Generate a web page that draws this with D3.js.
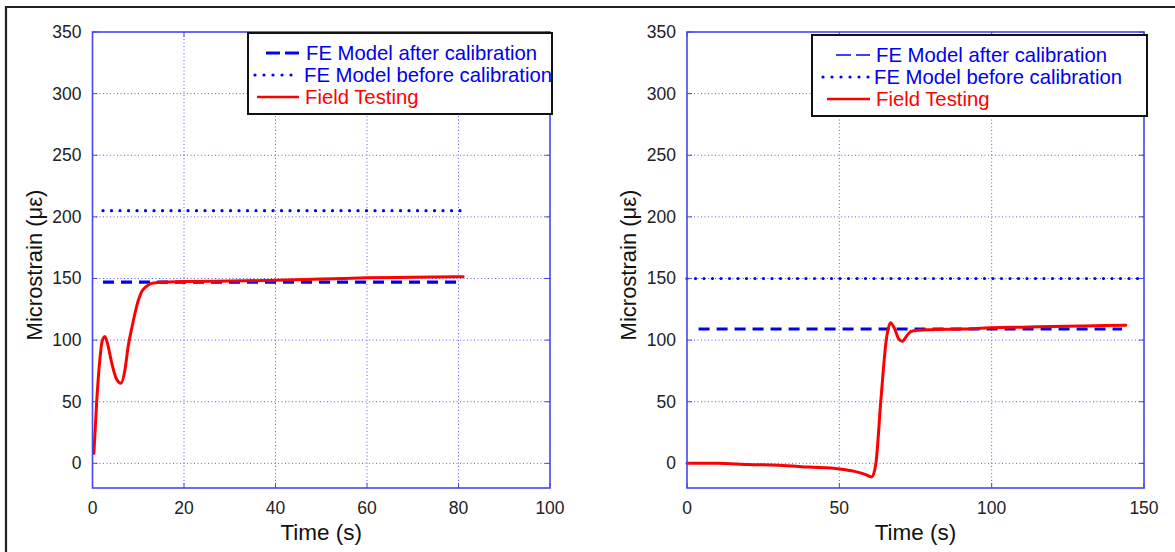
<!DOCTYPE html>
<html>
<head>
<meta charset="utf-8">
<script src="https://cdn.jsdelivr.net/npm/d3@7"></script>
<style>
	body	{ margin:0; background:#fff; }
	svg	{ display:block; font-family:"Liberation Sans", Arial, sans-serif; }
</style>
</head>
<body>
<svg id="chart" width="1175" height="552"></svg>
<script>
// values
var	yTicks		= [0, 50, 100, 150, 200, 250, 300, 350],
	leftXTicks	= [0, 20, 40, 60, 80, 100],
	rightXTicks	= [0, 50, 100, 150],
	legendLabels	= ["FE Model after calibration", "FE Model before calibration", "Field Testing"];

var	leftTime	= [0.3, 0.9, 1.6, 2.1, 2.7, 3.3, 4.2, 5.3, 6.2, 7.1, 7.8, 8.6, 9.3, 10, 10.7, 11.6, 12.9, 15, 20, 30, 40, 50, 55, 60, 70, 81],
	leftField	= [8, 49, 84, 99, 103, 97, 81.5, 68, 65, 76, 95, 110, 122, 132, 139, 143, 146, 147, 147.5, 148, 148.5, 149.5, 150, 150.5, 151, 151.5],
	leftAfterX	= [2.3, 80.3],
	leftAfter	= [147, 147],
	leftBeforeX	= [2.3, 80.5],
	leftBefore	= [205, 205];

var	rightTime	= [0, 10, 20, 30, 40, 50, 55, 58, 60.7, 62, 63.6, 65.4, 66.8, 68, 69.5, 70.7, 72, 73.5, 76, 80, 90, 100, 110, 120, 130, 144],
	rightField	= [0, 0, -1, -1.5, -3, -4.5, -6.5, -8.5, -11, 0, 50, 100, 114, 110, 101, 99, 103, 107, 108, 108.5, 109, 110, 110.5, 111, 111.5, 112],
	rightAfterX	= [3.8, 142.8],
	rightAfter	= [109, 109],
	rightBeforeX	= [0, 150],
	rightBefore	= [150, 150];

var	svg	= d3.select("#chart"),
	axisBlue= "#4646ee",
	gridBlue= "#5c5cf0";

function zip(xs, ys) { return xs.map(function(x, i) { return [x, ys[i]]; }); }

function drawPanel(p) {
	var	x	= d3.scaleLinear().domain(p.xDomain).range([p.left, p.right]),
		y	= d3.scaleLinear().domain([-20, 350]).range([488, 32]),
		line	= d3.line().x(function(d) { return x(d[0]); }).y(function(d) { return y(d[1]); }),
		g	= svg.append("g");

	// grid
	g.selectAll(".gx").data(p.xTicks.slice(1, -1)).enter().append("line")
		.attr("x1", function(d) { return x(d); }).attr("x2", function(d) { return x(d); })
		.attr("y1", y(-20)).attr("y2", y(350))
		.attr("stroke", gridBlue).attr("stroke-width", 1).attr("stroke-dasharray", "1,2.5");
	g.selectAll(".gy").data(yTicks.slice(0, -1)).enter().append("line")
		.attr("y1", function(d) { return y(d); }).attr("y2", function(d) { return y(d); })
		.attr("x1", p.left).attr("x2", p.right)
		.attr("stroke", gridBlue).attr("stroke-width", 1).attr("stroke-dasharray", "1,2.5");

	// series
	g.append("path").datum(zip(p.beforeX, p.before)).attr("d", line)
		.attr("fill", "none").attr("stroke", "#0000ff").attr("stroke-width", 3.2)
		.attr("stroke-linecap", "round").attr("stroke-dasharray", "0,8.5");
	g.append("path").datum(zip(p.afterX, p.after)).attr("d", line)
		.attr("fill", "none").attr("stroke", "#0000ee").attr("stroke-width", 3.2)
		.attr("stroke-dasharray", "11,7");
	g.append("path").datum(zip(p.time, p.field)).attr("d", line.curve(d3.curveMonotoneX))
		.attr("fill", "none").attr("stroke", "#ff0000").attr("stroke-width", 3)
		.attr("stroke-linejoin", "round").attr("stroke-linecap", "round");

	// box and inward ticks
	g.append("rect").attr("x", p.left).attr("y", y(350))
		.attr("width", p.right - p.left).attr("height", y(-20) - y(350))
		.attr("fill", "none").attr("stroke", axisBlue).attr("stroke-width", 1.6);
	p.xTicks.forEach(function(t) {
		g.append("line").attr("x1", x(t)).attr("x2", x(t)).attr("y1", y(-20)).attr("y2", y(-20) - 5).attr("stroke", axisBlue);
		g.append("line").attr("x1", x(t)).attr("x2", x(t)).attr("y1", y(350)).attr("y2", y(350) + 5).attr("stroke", axisBlue);
	});
	yTicks.forEach(function(t) {
		g.append("line").attr("y1", y(t)).attr("y2", y(t)).attr("x1", p.left).attr("x2", p.left + 5).attr("stroke", axisBlue);
		g.append("line").attr("y1", y(t)).attr("y2", y(t)).attr("x1", p.right).attr("x2", p.right - 5).attr("stroke", axisBlue);
	});

	// tick labels
	g.selectAll(".xl").data(p.xTicks).enter().append("text")
		.attr("x", function(d) { return x(d); }).attr("y", 514)
		.attr("text-anchor", "middle").attr("font-size", 17.5).attr("fill", "#222")
		.text(function(d) { return d; });
	g.selectAll(".yl").data(yTicks).enter().append("text")
		.attr("x", p.left - 11).attr("y", function(d) { return y(d) + 6; })
		.attr("text-anchor", "end").attr("font-size", 17.5).attr("fill", "#222")
		.text(function(d) { return d; });

	// axis titles
	g.append("text").attr("x", (p.left + p.right) / 2).attr("y", 540)
		.attr("text-anchor", "middle").attr("font-size", 22.5).attr("fill", "#111")
		.text("Time (s)");
	g.append("text").attr("transform", "translate(" + (p.left - 51) + ",265) rotate(-90)")
		.attr("text-anchor", "middle").attr("font-size", 22).attr("fill", "#111")
		.text("Microstrain (\u03bc\u03b5)");

	// legend
	var	lg	= g.append("g").attr("transform", "translate(" + p.leg.x + "," + p.leg.y + ")"),
		styles	= [
			{ c:"#0000ff", dash:p.leg.dash, w:p.leg.dw, cap:"butt" },
			{ c:"#0000ff", dash:"0,9", w:3.2, cap:"round" },
			{ c:"#ff0000", dash:null, w:2.5, cap:"butt" }
		];
	lg.append("rect").attr("width", p.leg.w).attr("height", 81)
		.attr("fill", "#fff").attr("stroke", "#111").attr("stroke-width", 2);
	legendLabels.forEach(function(lbl, i) {
		var yy = 20 + i * 22;
		lg.append("line").attr("x1", p.leg.s[i]).attr("x2", p.leg.e).attr("y1", yy).attr("y2", yy)
			.attr("stroke", styles[i].c).attr("stroke-width", styles[i].w)
			.attr("stroke-linecap", styles[i].cap).attr("stroke-dasharray", styles[i].dash);
		lg.append("text").attr("x", p.leg.t[i]).attr("y", yy + 7)
			.attr("font-size", 20.3).attr("fill", i == 2 ? "#ff0000" : "#0000ee")
			.text(lbl);
	});
}

// outer frame
svg.append("path").attr("d", "M6,552V7H1175").attr("fill", "none").attr("stroke", "#222").attr("stroke-width", 2.2);

drawPanel({ left:92.5, right:550, xDomain:[0, 100], xTicks:leftXTicks,
	time:leftTime, field:leftField, afterX:leftAfterX, after:leftAfter, beforeX:leftBeforeX, before:leftBefore,
	leg:{ x:248, y:33, w:304, s:[18, 7, 9], e:51, t:[58, 56, 57], dash:"14,5", dw:3 } });
drawPanel({ left:687, right:1144, xDomain:[0, 150], xTicks:rightXTicks,
	time:rightTime, field:rightField, afterX:rightAfterX, after:rightAfter, beforeX:rightBeforeX, before:rightBefore,
	leg:{ x:812, y:35, w:335, s:[24, 11, 15], e:58, t:[64, 62, 64], dash:"15,5", dw:1.6 } });
</script>
</body>
</html>
